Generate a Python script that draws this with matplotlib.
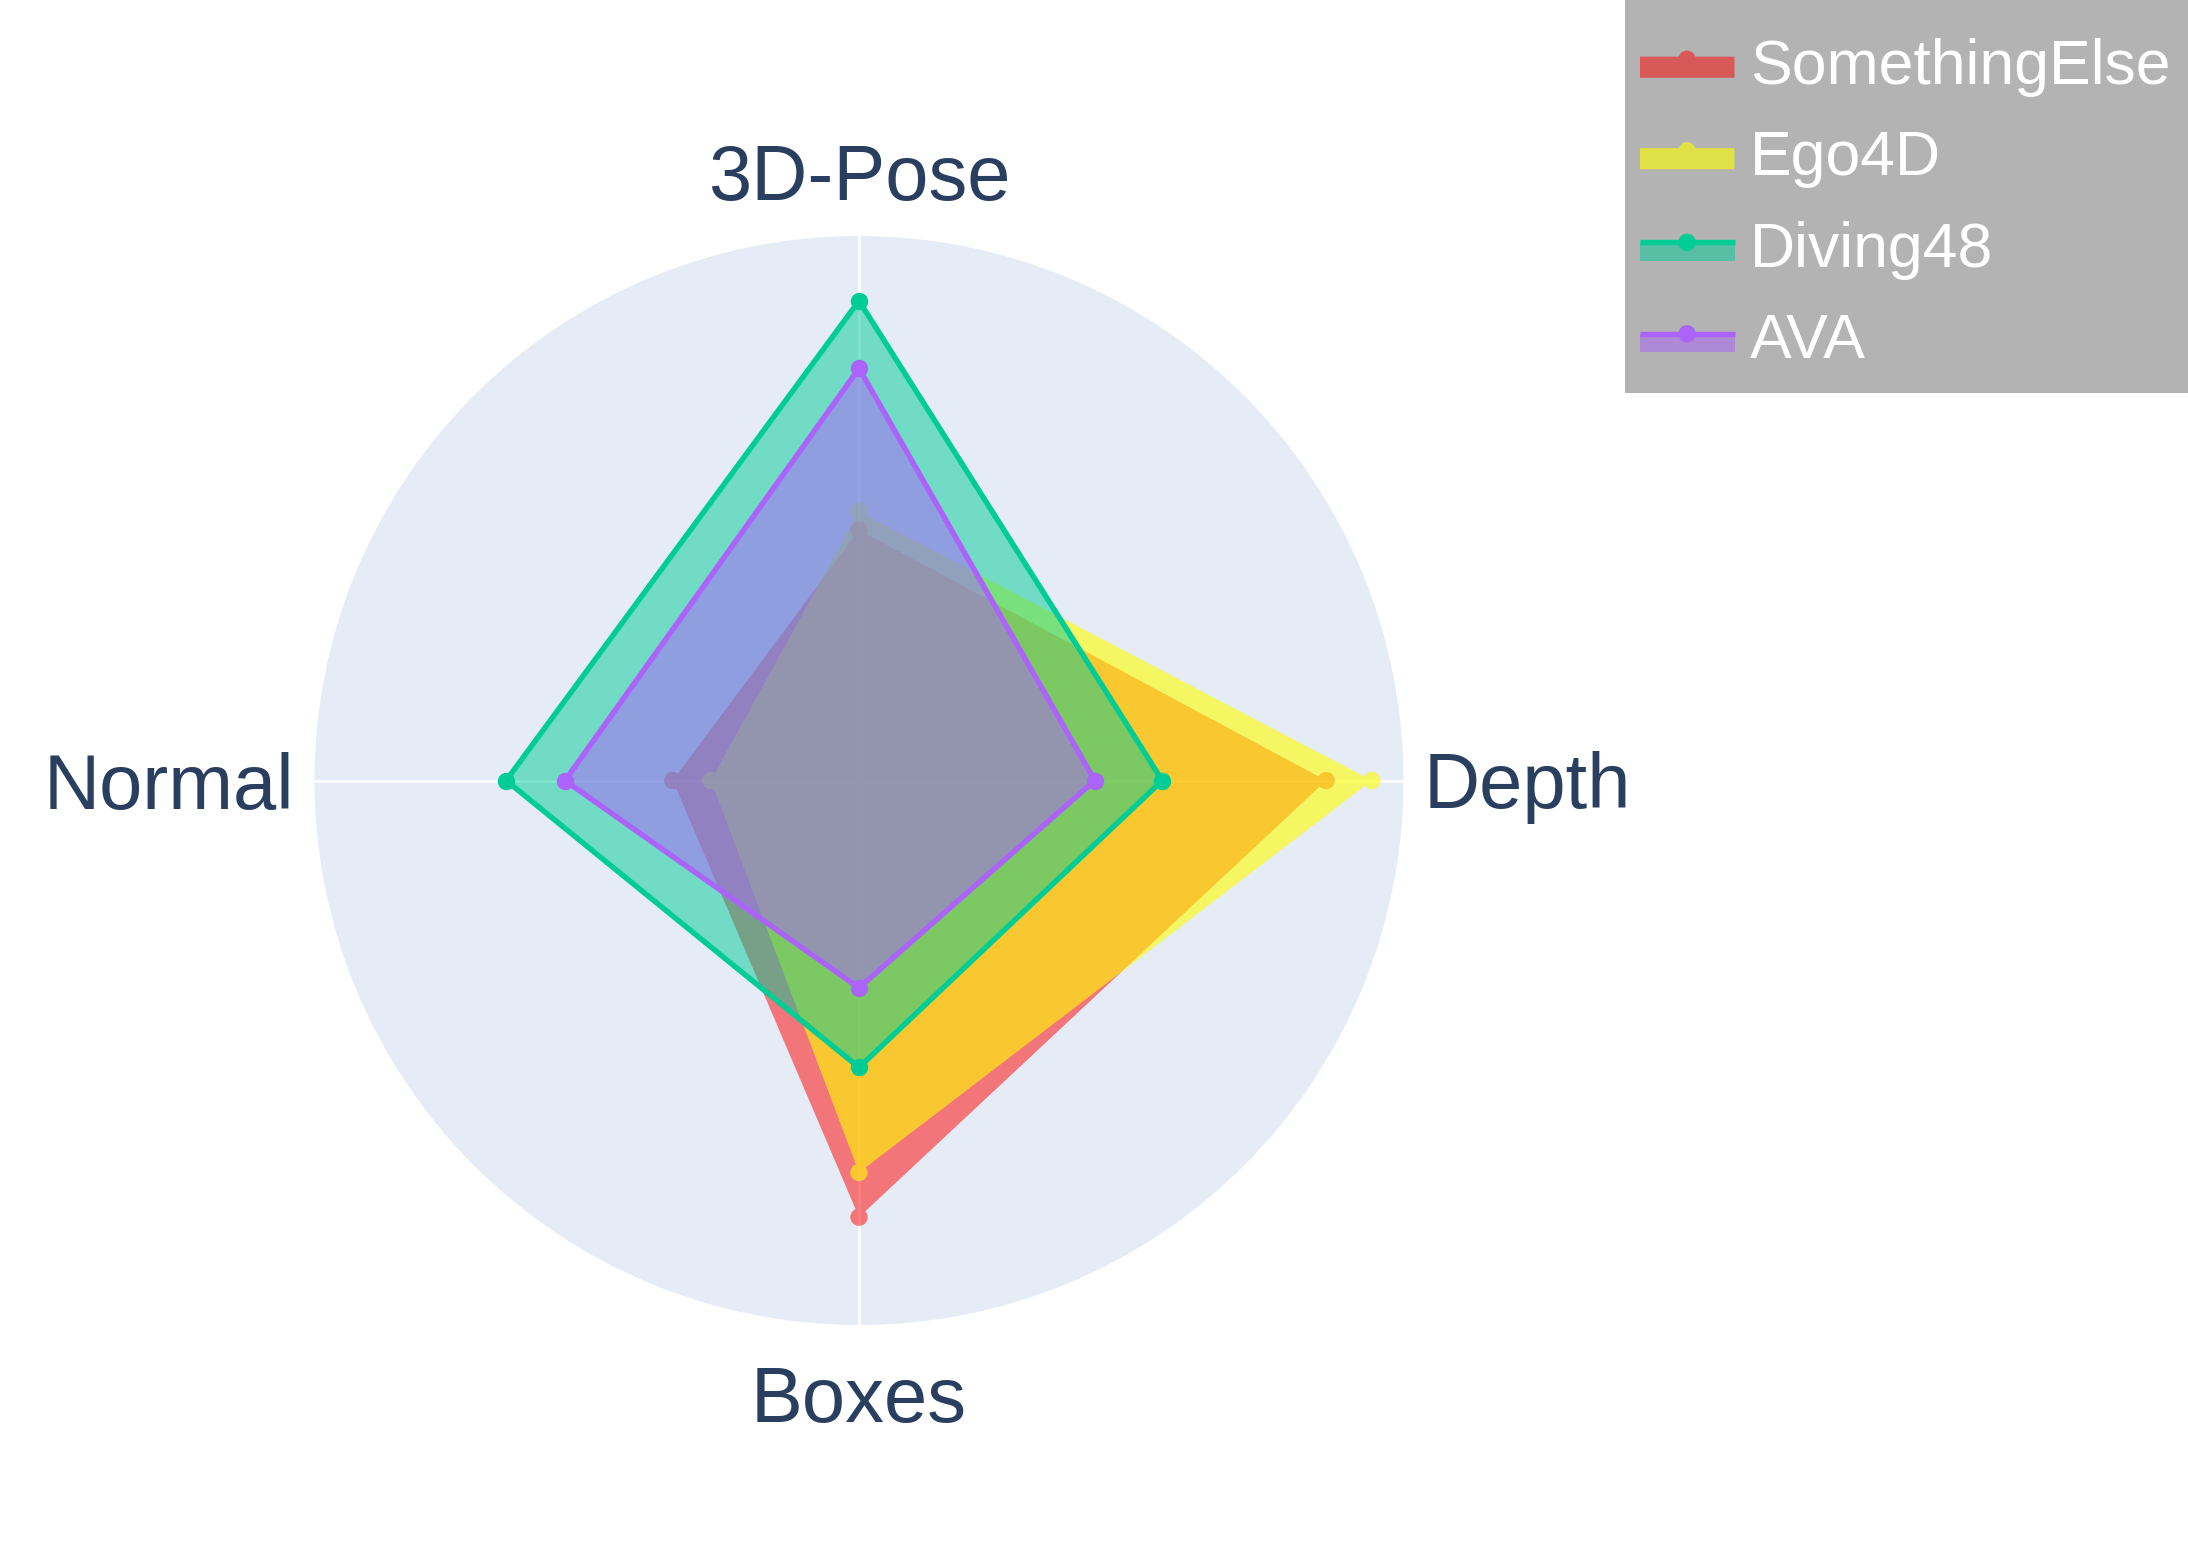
import numpy as np
import matplotlib
matplotlib.use('Agg')
import matplotlib.pyplot as plt
from matplotlib.path import Path
from matplotlib.patches import PathPatch, Rectangle, Circle
from matplotlib.lines import Line2D
from matplotlib.transforms import IdentityTransform

# ---------------- data ----------------
categories = ['3D-Pose', 'Depth', 'Boxes', 'Normal']
series_names = ['SomethingElse', 'Ego4D', 'Diving48', 'AVA']
something_else = [0.460, 0.858, 0.802, 0.342]
ego4d = [0.494, 0.942, 0.720, 0.272]
diving48 = [0.881, 0.557, 0.527, 0.648]
ava = [0.757, 0.433, 0.381, 0.540]

# ---------------- style ----------------
colors = ['#ff0000', '#ffff00', '#00cc96', '#ab63fa']
group_alpha = [0.5, 0.6, None, None]   # whole-trace opacity (fill+marker merged)
fill_alpha = 0.5
label_color = '#2a3f5f'
FONT = 'Liberation Sans'

W, H = 2188, 1563
fig = plt.figure(figsize=(W / 100, H / 100), dpi=100)
fig.patch.set_facecolor('white')

cx, cy, R = 859.0, 780.5, 544.5
ax = fig.add_axes([(cx - R) / W, (H - cy - R) / H, 2 * R / W, 2 * R / H],
                  projection='polar')
ax.set_theta_zero_location('N')
ax.set_theta_direction(-1)
ax.set_ylim(0, 1)
ax.set_facecolor('#E5ECF6')
angles = np.deg2rad(np.arange(len(categories)) * 360.0 / len(categories))
ax.set_xticks(angles)
ax.set_xticklabels([])
ax.set_yticks([])
ax.xaxis.grid(True, color='white', lw=2.0)
ax.yaxis.grid(False)
ax.spines['polar'].set_visible(False)
ax.tick_params(axis='x', length=0, pad=0)
ax.set_axisbelow(True)
ax.apply_aspect()

MARKER_PX = 8.7      # marker radius in pixels
LINE_PX = 5.4

def px2pt(p):
    return p * 72.0 / 100.0

def ccw(poly):
    x, y = poly[:, 0], poly[:, 1]
    area = 0.5 * np.sum(x * np.roll(y, -1) - np.roll(x, -1) * y)
    return poly if area > 0 else poly[::-1]

def union_path(poly, centers, radius):
    verts, codes = [], []
    poly = ccw(np.asarray(poly, float))
    verts += list(poly) + [poly[0]]
    codes += [Path.MOVETO] + [Path.LINETO] * (len(poly) - 1) + [Path.CLOSEPOLY]
    for c in centers:
        cp = Path.circle(center=c, radius=radius)
        verts += list(cp.vertices)
        codes += list(cp.codes)
    return Path(np.array(verts), np.array(codes))

all_series = [something_else, ego4d, diving48, ava]
for i, (name, vals) in enumerate(zip(series_names, all_series)):
    th = np.array(angles)
    rr = np.array(vals, float)
    z = 2 + i
    if group_alpha[i] is not None:
        pts = ax.transData.transform(np.column_stack([th, rr]))
        path = union_path(pts, pts, MARKER_PX)
        patch = PathPatch(path, facecolor=colors[i], edgecolor='none',
                          alpha=group_alpha[i], zorder=z)
        patch.set_transform(IdentityTransform())
        ax.add_artist(patch)
        patch.set_clip_on(False)
    else:
        ax.fill(th, rr, color=colors[i], alpha=fill_alpha, lw=0, zorder=z)
        tc = np.append(th, th[0])
        rc = np.append(rr, rr[0])
        ax.plot(tc, rc, color=colors[i], lw=px2pt(LINE_PX), zorder=z + 0.1,
                solid_joinstyle='round')
        ax.plot(th, rr, 'o', color=colors[i], ms=px2pt(2 * MARKER_PX),
                mec='none', zorder=z + 0.2)

# ---------------- category labels ----------------
lab_kw = dict(xycoords='data', textcoords='offset pixels', fontsize=56,
              color=label_color, family=FONT, annotation_clip=False)
ax.annotate(categories[0], xy=(angles[0], 1.0), xytext=(0, 36),
            ha='center', va='baseline', **lab_kw)
ax.annotate(categories[1], xy=(angles[1], 1.0), xytext=(20, -28),
            ha='left', va='baseline', **lab_kw)
ax.annotate(categories[2], xy=(angles[2], 1.0), xytext=(0, -97),
            ha='center', va='baseline', **lab_kw)
ax.annotate(categories[3], xy=(angles[3], 1.0), xytext=(-20, -28),
            ha='right', va='baseline', **lab_kw)

# ---------------- legend (drawn in pixel coordinates) ----------------
def Y(y):
    return H - y

leg = Rectangle((1625, Y(392.5)), W - 1625, 392.5, facecolor='#b3b3b3',
                edgecolor='none', transform=IdentityTransform(), zorder=10)
fig.add_artist(leg)

text_centers = [62.3, 153.8, 245.3, 336.8]
sw_x0, sw_x1, mk_x = 1640.0, 1734.5, 1687.0
for i, name in enumerate(series_names):
    yc = text_centers[i]
    ly = yc - 3.0
    if group_alpha[i] is not None:
        rect = np.array([[sw_x0, Y(ly - LINE_PX / 2)], [sw_x1, Y(ly - LINE_PX / 2)],
                         [sw_x1, Y(ly + 18.5)], [sw_x0, Y(ly + 18.5)]])
        path = union_path(rect, [(mk_x, Y(ly))], MARKER_PX)
        p = PathPatch(path, facecolor=colors[i], edgecolor='none',
                      alpha=group_alpha[i], transform=IdentityTransform(), zorder=11)
        fig.add_artist(p)
    else:
        r = Rectangle((sw_x0, Y(ly + 18.5)), sw_x1 - sw_x0, 18.5,
                      facecolor=colors[i], alpha=fill_alpha, edgecolor='none',
                      transform=IdentityTransform(), zorder=11)
        fig.add_artist(r)
        ln = Line2D([sw_x0, sw_x1], [Y(ly), Y(ly)], color=colors[i],
                    lw=px2pt(LINE_PX), solid_capstyle='butt',
                    transform=IdentityTransform(), zorder=12)
        fig.add_artist(ln)
        c = Circle((mk_x, Y(ly)), MARKER_PX, facecolor=colors[i], edgecolor='none',
                   transform=IdentityTransform(), zorder=13)
        fig.add_artist(c)
    fig.text(1750 / W, 1 - (yc + 21.5) / H, name, fontsize=45, color='white',
             family=FONT, ha='left', va='baseline', zorder=14)

fig.savefig('out.png', dpi=100, facecolor='white')
